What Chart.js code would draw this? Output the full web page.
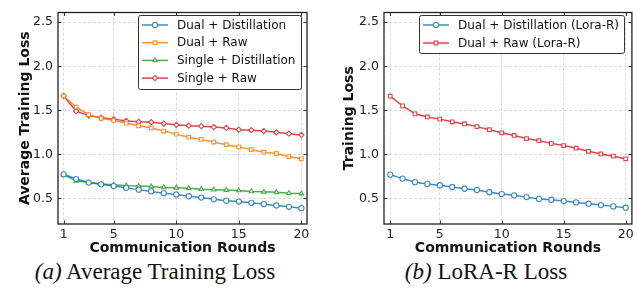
<!DOCTYPE html>
<html>
<head>
<meta charset="utf-8">
<script src="https://cdn.jsdelivr.net/npm/chart.js@4.4.0/dist/chart.umd.min.js"></script>
<style>
body { margin: 0; width: 637px; height: 301px; background: #fff; position: relative; overflow: hidden; }
.panel { position: absolute; top: 0; }
.caption { position: absolute; font-family: "Liberation Serif", serif; font-size: 23px; color: #111; white-space: nowrap; transform: translateX(-50%); line-height: 26px; }
</style>
</head>
<body>
<div class="panel" style="left:0"><canvas id="chartA" width="318" height="257"></canvas></div>
<div class="panel" style="left:320px"><canvas id="chartB" width="317" height="257"></canvas></div>
<div class="caption" style="left:155px;top:259px"><i>(a)</i> Average Training Loss</div>
<div class="caption" style="left:486px;top:259px"><i>(b)</i> LoRA-R Loss</div>
<script>
// ---- data ----
const rounds = [1,2,3,4,5,6,7,8,9,10,11,12,13,14,15,16,17,18,19,20];
const xTicks = [1, 5, 10, 15, 20];
const yTicks = [0.5, 1.0, 1.5, 2.0, 2.5];

const dualDistill   = [0.774,0.72,0.68,0.66,0.64,0.62,0.60,0.58,0.56,0.545,0.525,0.51,0.49,0.475,0.465,0.45,0.435,0.42,0.405,0.39];
const dualRaw       = [1.663,1.537,1.45,1.41,1.385,1.355,1.325,1.30,1.265,1.23,1.195,1.17,1.14,1.11,1.085,1.055,1.025,1.01,0.975,0.95];
const singleDistill = [0.767,0.70,0.68,0.665,0.655,0.645,0.64,0.635,0.625,0.62,0.615,0.605,0.60,0.595,0.59,0.58,0.575,0.57,0.56,0.555];
const singleRaw     = [1.663,1.49,1.44,1.415,1.40,1.38,1.37,1.365,1.35,1.335,1.325,1.32,1.31,1.30,1.28,1.275,1.265,1.25,1.235,1.22];

const loraDistill = [0.77,0.725,0.685,0.665,0.65,0.63,0.61,0.595,0.57,0.55,0.535,0.515,0.495,0.485,0.47,0.455,0.44,0.425,0.41,0.395];
const loraRaw     = [1.66,1.55,1.46,1.425,1.40,1.37,1.345,1.315,1.28,1.245,1.215,1.18,1.155,1.125,1.10,1.07,1.035,1.005,0.98,0.95];

const BLUE = 'rgba(31,119,180,0.85)';
const ORANGE = 'rgba(255,127,14,0.85)';
const GREEN = 'rgba(44,160,44,0.85)';
const RED = 'rgba(214,39,40,0.85)';
const MARK = 2.6;

function series(label, values, color, style) {
  return {
    label: label,
    data: values.map((v, i) => ({ x: rounds[i], y: v })),
    borderColor: color,
    borderWidth: 1.5,
    pointStyle: style,
    pointRadius: MARK,
    pointBorderWidth: 1.1,
    pointBorderColor: color,
    pointBackgroundColor: '#fff',
    tension: 0
  };
}

function drawMark(ctx, style, x, y, r) {
  if (style === 'circle') {
    ctx.arc(x, y, r, 0, Math.PI * 2);
  } else if (style === 'rect') {
    const h = r * Math.SQRT1_2;
    ctx.rect(x - h, y - h, 2 * h, 2 * h);
  } else if (style === 'rectRot') {
    ctx.moveTo(x, y - r); ctx.lineTo(x + r, y); ctx.lineTo(x, y + r); ctx.lineTo(x - r, y); ctx.closePath();
  } else if (style === 'triangle') {
    const s = r * 3 / Math.sqrt(3) / 2;
    ctx.moveTo(x, y - r); ctx.lineTo(x + s, y + r / 2); ctx.lineTo(x - s, y + r / 2); ctx.closePath();
  }
}

/* frame with inward ticks + legend box drawn inside the plot */
const framePlugin = {
  id: 'frame',
  afterDraw(chart, args, b) {
    const ctx = chart.ctx, a = chart.chartArea, sx = chart.scales.x, sy = chart.scales.y;
    ctx.save();
    ctx.strokeStyle = '#222';
    ctx.lineWidth = 0.9;
    ctx.beginPath();
    xTicks.forEach(v => {
      const x = Math.round(sx.getPixelForValue(v)) + 0.5;
      ctx.moveTo(x, a.bottom); ctx.lineTo(x, a.bottom - 3.5);
      ctx.moveTo(x, a.top); ctx.lineTo(x, a.top + 3.5);
    });
    yTicks.forEach(v => {
      const y = Math.round(sy.getPixelForValue(v)) + 0.5;
      ctx.moveTo(a.left, y); ctx.lineTo(a.left + 3.5, y);
      ctx.moveTo(a.right, y); ctx.lineTo(a.right - 3.5, y);
    });
    ctx.stroke();
    ctx.lineWidth = 1.3;
    ctx.strokeRect(a.left, a.top, a.right - a.left, a.bottom - a.top);

    // legend
    ctx.fillStyle = 'rgba(255,255,255,0.95)';
    ctx.strokeStyle = '#333';
    ctx.lineWidth = 1;
    ctx.beginPath();
    ctx.roundRect(b.x + 0.5, b.y + 0.5, b.w, b.h, 2);
    ctx.fill();
    ctx.stroke();
    ctx.font = '12px "DejaVu Sans"';
    ctx.textBaseline = 'middle';
    chart.data.datasets.forEach((ds, i) => {
      const y = b.y + b.first + i * b.step;
      ctx.strokeStyle = ds.borderColor;
      ctx.lineWidth = 1.5;
      ctx.beginPath();
      ctx.moveTo(b.x + 4, y); ctx.lineTo(b.x + 30, y);
      ctx.stroke();
      ctx.fillStyle = '#fff';
      ctx.lineWidth = 1.1;
      ctx.beginPath();
      drawMark(ctx, ds.pointStyle, b.x + 17, y, MARK);
      ctx.fill(); ctx.stroke();
      ctx.fillStyle = '#111';
      ctx.fillText(ds.label, b.x + 39, y + 0.5);
    });
    ctx.restore();
  }
};

function makeOptions(yTitle, yWidth, yTitlePad, xMin, xMax, padRight, legendBox) {
  return {
    responsive: false,
    animation: false,
    devicePixelRatio: 1,
    layout: { padding: { top: 8, right: padRight, left: 0, bottom: 0 } },
    plugins: { legend: { display: false }, tooltip: { enabled: false }, frame: legendBox },
    scales: {
      x: {
        type: 'linear', min: xMin, max: xMax,
        afterBuildTicks: s => { s.ticks = xTicks.map(v => ({ value: v })); },
        afterFit: s => { s.height = 33; },
        grid: { color: 'rgba(170,170,170,0.55)', lineWidth: 0.8, drawTicks: false },
        border: { display: false, dash: [3, 2] },
        ticks: { font: { family: 'DejaVu Sans', size: 12.5 }, color: '#222', padding: 3, maxRotation: 0, callback: v => String(v) },
        title: { display: true, text: 'Communication Rounds', color: '#111', font: { family: 'DejaVu Sans', size: 14, weight: 'bold' }, padding: { top: 0, bottom: 0 } }
      },
      y: {
        type: 'linear', min: 0.21, max: 2.61,
        afterBuildTicks: s => { s.ticks = yTicks.map(v => ({ value: v })); },
        afterFit: s => { s.width = yWidth; },
        grid: { color: 'rgba(170,170,170,0.55)', lineWidth: 0.8, drawTicks: false },
        border: { display: false, dash: [3, 2] },
        ticks: { font: { family: 'DejaVu Sans', size: 12.5 }, color: '#222', padding: 5, callback: v => v.toFixed(1) },
        title: { display: true, text: yTitle, color: '#111', font: { family: 'DejaVu Sans', size: 14, weight: 'bold' }, padding: { top: yTitlePad, bottom: 0 } }
      }
    }
  };
}

new Chart(document.getElementById('chartA'), {
  type: 'line',
  data: {
    datasets: [
      series('Dual + Distillation', dualDistill, BLUE, 'circle'),
      series('Dual + Raw', dualRaw, ORANGE, 'rect'),
      series('Single + Distillation', singleDistill, GREEN, 'triangle'),
      series('Single + Raw', singleRaw, RED, 'rectRot')
    ]
  },
  options: makeOptions('Average Training Loss', 58, 16.5, 0.55, 20.45, 11,
    { x: 138, y: 15, w: 163, h: 74, first: 10, step: 17.7 }),
  plugins: [framePlugin]
});

new Chart(document.getElementById('chartB'), {
  type: 'line',
  data: {
    datasets: [
      series('Dual + Distillation (Lora-R)', loraDistill, BLUE, 'circle'),
      series('Dual + Raw (Lora-R)', loraRaw, RED, 'rect')
    ]
  },
  options: makeOptions('Training Loss', 64, 20.5, 0.5, 20.5, 5,
    { x: 99, y: 15, w: 205, h: 38, first: 10, step: 18 }),
  plugins: [framePlugin]
});
</script>
</body>
</html>
